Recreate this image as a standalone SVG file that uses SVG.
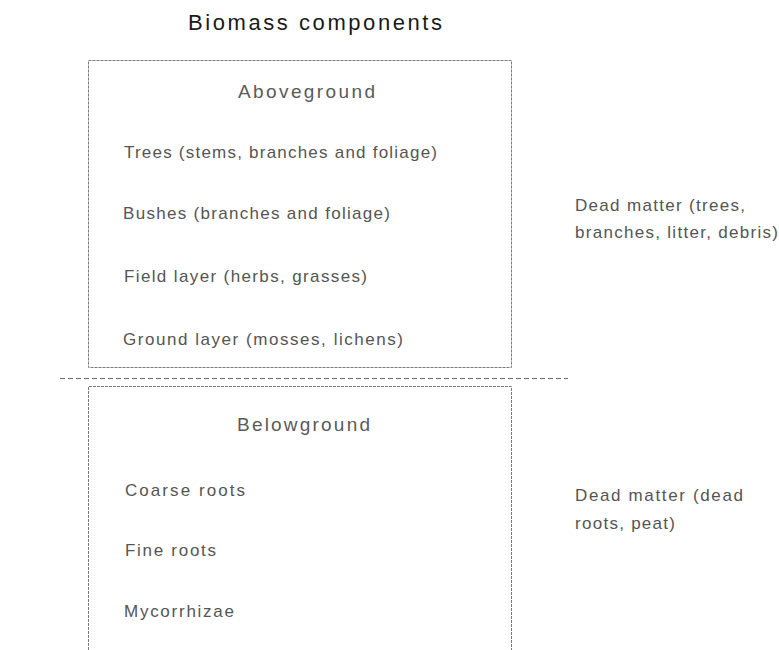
<svg xmlns="http://www.w3.org/2000/svg" width="779" height="650" viewBox="0 0 779 650">
<style>
text{font-family:"Liberation Sans",Arial,sans-serif}
.title{font-size:22px;fill:#1a1a1a}
.head{font-size:19px;fill:#5a5a5a}
.item{font-size:17px;fill:#555}
.dead{font-size:17px;fill:#555}
.box{fill:none;stroke:#7a7a7a;stroke-width:1;stroke-dasharray:3 1}
.sep{fill:none;stroke:#6a6a6a;stroke-width:1;stroke-dasharray:5 3}
</style>
<rect width="779" height="650" fill="#fff"/>
<g id="title"><text class="title" x="188" y="30" textLength="254" lengthAdjust="spacing">Biomass components</text></g>
<g id="aboveground">
<rect class="box" x="88.5" y="60.5" width="423" height="307"/>
<text class="head" x="238" y="98" textLength="137" lengthAdjust="spacing">Aboveground</text>
<text class="item" x="124" y="158" textLength="313" lengthAdjust="spacing">Trees (stems, branches and foliage)</text>
<text class="item" x="123" y="219" textLength="267" lengthAdjust="spacing">Bushes (branches and foliage)</text>
<text class="item" x="124" y="282" textLength="243" lengthAdjust="spacing">Field layer (herbs, grasses)</text>
<text class="item" x="123" y="345" textLength="280" lengthAdjust="spacing">Ground layer (mosses, lichens)</text>
</g>
<g id="connectors"><line class="sep" x1="60" y1="378.5" x2="568" y2="378.5"/></g>
<g id="belowground">
<path class="box" d="M88.5 650V386.5H511.5V650"/>
<text class="head" x="237" y="431" textLength="133" lengthAdjust="spacing">Belowground</text>
<text class="item" x="125" y="496" textLength="120" lengthAdjust="spacing">Coarse roots</text>
<text class="item" x="125" y="556" textLength="91" lengthAdjust="spacing">Fine roots</text>
<text class="item" x="124" y="617" textLength="110" lengthAdjust="spacing">Mycorrhizae</text>
</g>
<g id="dead-above">
<text class="dead" x="575" y="211" textLength="170" lengthAdjust="spacing">Dead matter (trees,</text>
<text class="dead" x="575" y="238" textLength="203" lengthAdjust="spacing">branches, litter, debris)</text>
</g>
<g id="dead-below">
<text class="dead" x="575" y="501" textLength="168" lengthAdjust="spacing">Dead matter (dead</text>
<text class="dead" x="575" y="529" textLength="100" lengthAdjust="spacing">roots, peat)</text>
</g>
</svg>
